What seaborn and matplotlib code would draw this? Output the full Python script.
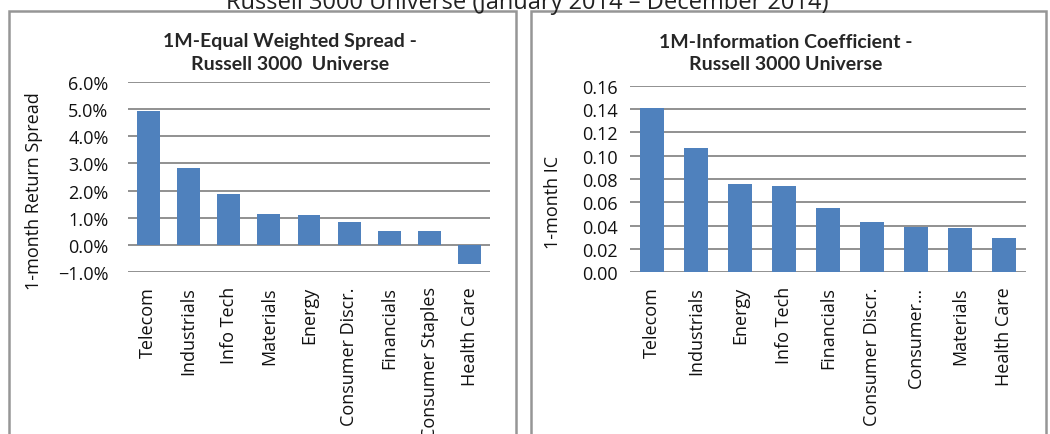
import matplotlib
matplotlib.use("Agg")
import matplotlib.pyplot as plt
from matplotlib.patches import Rectangle
from matplotlib.ticker import PercentFormatter, FormatStrFormatter
import seaborn as sns

# Sector results, Russell 3000, Jan-Dec 2014
spread_sectors = ["Telecom", "Industrials", "Info Tech", "Materials", "Energy",
                  "Consumer Discr.", "Financials", "Consumer Staples", "Health Care"]
spread_values = [0.0494, 0.0284, 0.0189, 0.0115, 0.0112, 0.0085, 0.0053, 0.0051, -0.0070]

ic_sectors = ["Telecom", "Industrials", "Energy", "Info Tech", "Financials",
              "Consumer Discr.", "Consumer…", "Materials", "Health Care"]
ic_values = [0.1405, 0.1063, 0.0760, 0.0743, 0.0549, 0.0429, 0.0386, 0.0377, 0.0292]

spread_ticks = [-0.01, 0.0, 0.01, 0.02, 0.03, 0.04, 0.05, 0.06]
ic_ticks = [0.00, 0.02, 0.04, 0.06, 0.08, 0.10, 0.12, 0.14, 0.16]

BAR = "#4F81BD"
GRID = "#888888"
BOX = "#969696"
W, H = 1050, 435

sns.set_theme(style="white")
plt.rcParams["font.family"] = ["Open Sans", "DejaVu Sans"]
title_font = ["Lato", "Open Sans", "DejaVu Sans"]

fig = plt.figure(figsize=(W / 100, H / 100), dpi=100)
fig.patch.set_facecolor("white")


def fx(px):
    return px / W


def fy(py):
    return 1 - py / H


# panel frames
for x0, x1 in [(9, 516), (531, 1046)]:
    fig.add_artist(Rectangle((fx(x0), -0.05), fx(x1 - x0), fy(12) + 0.05,
                             transform=fig.transFigure, fill=False,
                             edgecolor=BOX, linewidth=1.8, zorder=0))

fig.text(fx(527), fy(9), "Russell 3000 Universe (January 2014 \u2013 December 2014)",
         ha="center", va="baseline", fontsize=17, color="#222222")


def style_axis(ax, ticks, ylabel, ypad, label_xy):
    ax.set_facecolor("none")
    for s in ax.spines.values():
        s.set_visible(False)
    ax.set_ylim(ticks[0], ticks[-1])
    ax.set_yticks(ticks)
    ax.yaxis.grid(True, color=GRID, linewidth=1.3)
    ax.xaxis.grid(False)
    ax.set_axisbelow(True)
    ax.tick_params(axis="y", length=0, pad=ypad, labelsize=13, labelcolor="#111111")
    ax.tick_params(axis="x", length=0, pad=10, labelsize=13, labelcolor="#111111")
    for lab in ax.get_xticklabels():
        lab.set_rotation(90)
    ax.set_xlabel("")
    ax.set_ylabel(ylabel, fontsize=13, color="#111111")
    ax.yaxis.set_label_coords(*label_xy)


# left: equal weighted spread
ax1 = fig.add_axes([fx(128), fy(273.3), fx(362), (273.3 - 82.7) / H])
sns.barplot(x=spread_sectors, y=spread_values, color=BAR, saturation=1,
            width=0.57, linewidth=0, ax=ax1)
style_axis(ax1, spread_ticks, "1-month Return Spread", 14, (-0.235, 0.43))
ax1.yaxis.set_major_formatter(PercentFormatter(xmax=1, decimals=1))
fig.text(fx(290), fy(42), "1M-Equal Weighted Spread -", ha="center", va="center",
         fontsize=14, fontweight="bold", family=title_font)
fig.text(fx(290), fy(65), "Russell 3000  Universe", ha="center", va="center",
         fontsize=14, fontweight="bold", family=title_font)

# right: information coefficient
ax2 = fig.add_axes([fx(630), fy(273.3), fx(396), (273.3 - 86.7) / H])
sns.barplot(x=ic_sectors, y=ic_values, color=BAR, saturation=1,
            width=0.55, linewidth=0, ax=ax2)
style_axis(ax2, ic_ticks, "1-month IC", 9, (-0.172, 0.38))
ax2.yaxis.set_major_formatter(FormatStrFormatter("%.2f"))
fig.text(fx(786), fy(42), "1M-Information Coefficient -", ha="center", va="center",
         fontsize=14, fontweight="bold", family=title_font)
fig.text(fx(786), fy(65), "Russell 3000 Universe", ha="center", va="center",
         fontsize=14, fontweight="bold", family=title_font)

fig.savefig("out.png", dpi=100, facecolor="white")
